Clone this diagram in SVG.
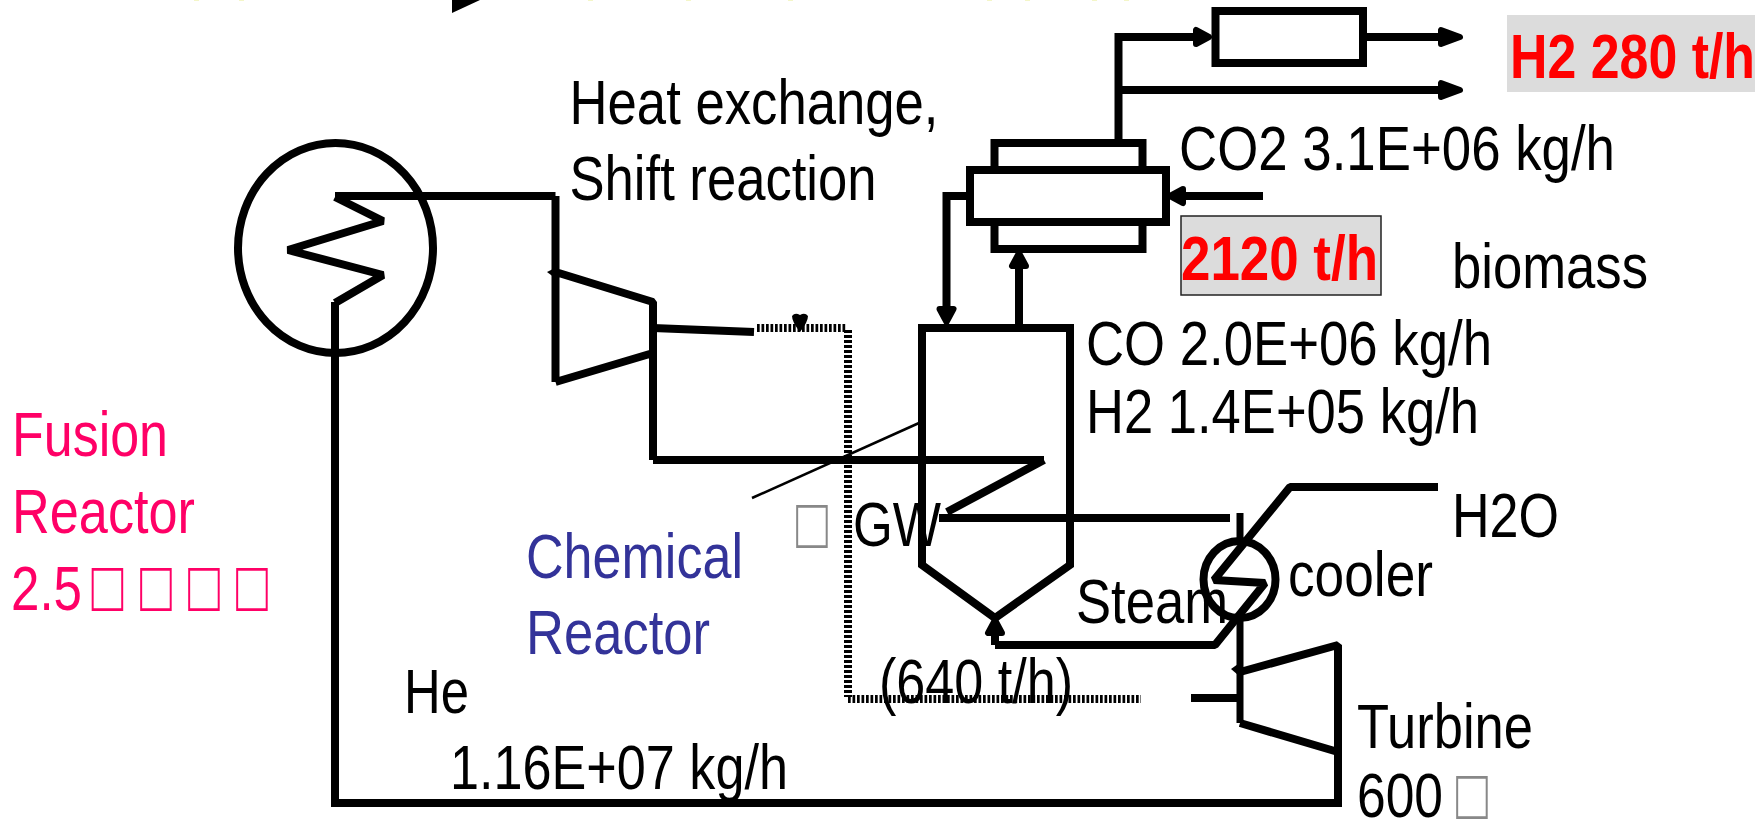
<svg xmlns="http://www.w3.org/2000/svg" width="1755" height="820" viewBox="0 0 1755 820">
<style>
text{font-family:"Liberation Sans",Arial,sans-serif;font-size:63px;fill:#000}
.b{font-weight:bold;fill:#f00}
.p{fill:#f06}
.c{fill:#339}
.g{fill:#888}
.o{font-size:72px}
.l{fill:none;stroke:#000;stroke-width:8;stroke-linejoin:bevel;stroke-linecap:butt}
.m{stroke-linejoin:miter}
.t{stroke-width:7}
.f{fill:#fff}
.hd{stroke-dasharray:2.700 1.800}
.vd{stroke-dasharray:3 2}
.s{fill:#f4f6c8}
</style>
<defs>
<marker id="a" markerUnits="userSpaceOnUse" markerWidth="30" markerHeight="30" refX="15" refY="15" orient="auto"><polygon points="3,8 3,22 22,15" fill="#000" stroke="#000" stroke-width="6" stroke-linejoin="round"/></marker>
<marker id="b" markerUnits="userSpaceOnUse" markerWidth="30" markerHeight="30" refX="9" refY="15" orient="auto"><polygon points="3,8 3,22 16,15" fill="#000" stroke="#000" stroke-width="6" stroke-linejoin="round"/></marker>
</defs>
<rect width="1755" height="820" fill="#fff"/>
<polygon points="452,0 480,0 452,13" fill="#000"/>
<g class="s"><rect x="194" y="0" width="5" height="1"/><rect x="239" y="0" width="5" height="1"/><rect x="588" y="0" width="5" height="1"/><rect x="686" y="0" width="5" height="1"/><rect x="788" y="0" width="5" height="1"/><rect x="987" y="0" width="5" height="1"/><rect x="1025" y="0" width="5" height="1"/><rect x="1092" y="0" width="5" height="1"/><rect x="1124" y="0" width="5" height="1"/></g>
<g id="connectors">
<path class="l m" d="M335 196H555.500"/>
<path class="l" d="M335 197L383 221L288 250L383 275L335 303"/>
<path class="l m" d="M335 302V803H1338V645"/>
<path class="l" d="M555.500 196V382M555.500 272L653 302V460M555.500 382L653 353"/>
<polygon points="547,272 555,268 562,272 555,278" fill="#000"/>
<path class="l" d="M653 328L754 332"/>
<path class="l hd" d="M757 328H847"/>
<path class="l vd" d="M848 330V697"/>
<path class="l hd" d="M848 699H1141"/>
<path d="M792 316Q795 312 800 315Q805 312 808 316Q808 322 800 332Q792 322 792 316Z" fill="#000"/>
<path class="l m" d="M653 460H1044"/>
<path class="l" d="M1044 460L947 512"/>
<path class="l" d="M939 518H1230"/>
<path d="M752 498L919 423" stroke="#000" stroke-width="2.500" fill="none"/>
<path class="l" d="M995 645H1215L1265 583L1214 580L1290 487H1438"/>
<path class="l t" d="M1240 513V540M1240 620V723"/>
<path class="l" d="M1191 698H1238"/>
<path class="l" d="M1240 672L1338 645V752L1240 723"/>
<polygon points="1231,669 1238,664 1242,674 1238,675" fill="#000"/>
<path class="l m" d="M967 196H946.500V315" marker-end="url(#b)"/>
<path class="l" d="M1019 328V260" marker-end="url(#b)"/>
<path class="l" d="M1263 196H1177" marker-end="url(#b)"/>
<path class="l m" d="M1118.500 142V37H1202" marker-end="url(#b)"/>
<path class="l" d="M1118.500 90H1453" marker-end="url(#a)"/>
<path class="l" d="M1364 37H1453" marker-end="url(#a)"/>
<path class="l" d="M995 645V627" marker-end="url(#b)"/>
</g>
<g id="fusion-reactor"><ellipse cx="335.500" cy="248" rx="97.500" ry="105" class="l"/></g>
<g id="separator"><rect x="1215.500" y="11" width="147.500" height="52" class="l m"/></g>
<g id="shift-reactor"><rect x="994.500" y="143" width="148" height="106" class="l m"/><rect x="970" y="170" width="196" height="52" class="l m f"/></g>
<g id="chemical-reactor"><path class="l m" d="M922 565V328H1070V565L995 618Z"/></g>
<g id="cooler"><ellipse cx="1239.500" cy="579.500" rx="36" ry="38.500" class="l"/></g>
<g id="labels">
<rect x="1507" y="15" width="248" height="77" fill="#dcdcdc"/>
<rect x="1181" y="216" width="200" height="79" fill="#dcdcdc" stroke="#222" stroke-width="1.500"/>
<text class="b" x="1510" y="78" textLength="245" lengthAdjust="spacingAndGlyphs">H2 280 t/h</text>
<text class="b" x="1181" y="280" textLength="197" lengthAdjust="spacingAndGlyphs">2120 t/h</text>
<text x="569.500" y="124" textLength="369" lengthAdjust="spacingAndGlyphs">Heat exchange,</text>
<text x="569.500" y="200" textLength="307" lengthAdjust="spacingAndGlyphs">Shift reaction</text>
<text x="1179" y="170" textLength="436" lengthAdjust="spacingAndGlyphs">CO2 3.1E+06 kg/h</text>
<text x="1452" y="288" textLength="196" lengthAdjust="spacingAndGlyphs">biomass</text>
<text x="1086" y="365" textLength="406" lengthAdjust="spacingAndGlyphs">CO 2.0E+06 kg/h</text>
<text x="1086" y="433" textLength="393" lengthAdjust="spacingAndGlyphs">H2 1.4E+05 kg/h</text>
<text x="1452" y="537" textLength="107" lengthAdjust="spacingAndGlyphs">H2O</text>
<text x="1288" y="596" textLength="145" lengthAdjust="spacingAndGlyphs">cooler</text>
<text x="1076" y="623" textLength="152" lengthAdjust="spacingAndGlyphs">Steam</text>
<text x="879" y="703" textLength="194" lengthAdjust="spacingAndGlyphs">(640 t/h)</text>
<text x="1357" y="748" textLength="176" lengthAdjust="spacingAndGlyphs">Turbine</text>
<text x="1357" y="817" textLength="86" lengthAdjust="spacingAndGlyphs">600</text>
<text x="853" y="546" textLength="88" lengthAdjust="spacingAndGlyphs">GW</text>
<text class="p" x="12" y="456" textLength="156" lengthAdjust="spacingAndGlyphs">Fusion</text>
<text class="p" x="12" y="533" textLength="183" lengthAdjust="spacingAndGlyphs">Reactor</text>
<text class="p" x="11" y="610" textLength="71" lengthAdjust="spacingAndGlyphs">2.5</text>
<text class="c" x="526" y="578" textLength="217" lengthAdjust="spacingAndGlyphs">Chemical</text>
<text class="c" x="526" y="654" textLength="184" lengthAdjust="spacingAndGlyphs">Reactor</text>
<text x="404" y="713" textLength="65" lengthAdjust="spacingAndGlyphs">He</text>
<text x="450" y="789" textLength="338" lengthAdjust="spacingAndGlyphs">1.16E+07 kg/h</text>
<text class="g o" x="796" y="548" textLength="32" lengthAdjust="spacingAndGlyphs">□</text>
<text class="g o" x="1456" y="819" textLength="32" lengthAdjust="spacingAndGlyphs">□</text>
<text class="p o" x="91.500" y="611" textLength="32" lengthAdjust="spacingAndGlyphs">□</text>
<text class="p o" x="140" y="611" textLength="32" lengthAdjust="spacingAndGlyphs">□</text>
<text class="p o" x="188" y="611" textLength="32" lengthAdjust="spacingAndGlyphs">□</text>
<text class="p o" x="236" y="611" textLength="32" lengthAdjust="spacingAndGlyphs">□</text>
</g>
</svg>
